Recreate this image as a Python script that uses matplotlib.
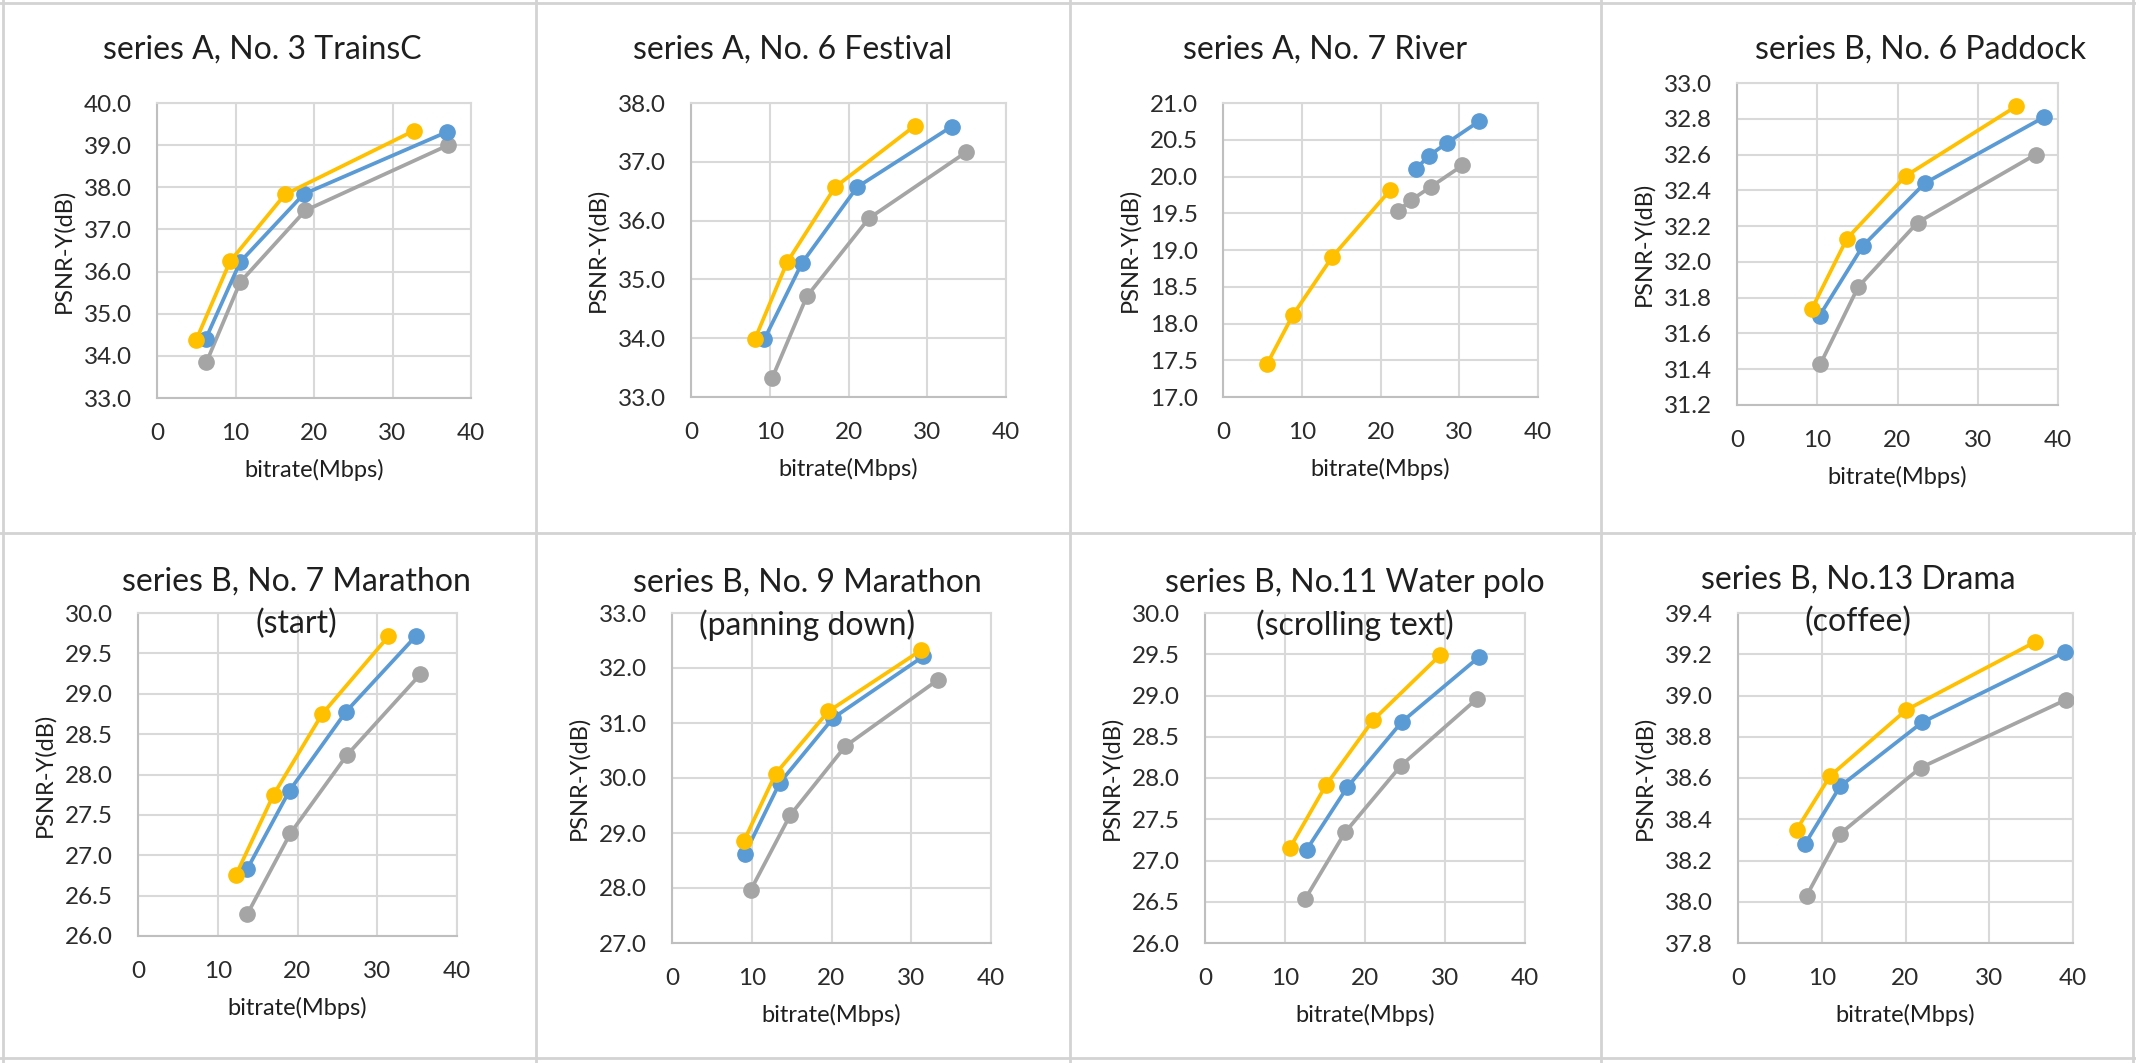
import numpy as np
import matplotlib
matplotlib.use("Agg")
import matplotlib.pyplot as plt
from matplotlib.lines import Line2D

plt.rcParams['font.family'] = ['Lato', 'DejaVu Sans']

# ---- data ----
titles = [
    "series A, No. 3 TrainsC",
    "series A, No. 6 Festival",
    "series A, No. 7 River",
    "series B, No. 6 Paddock",
    "series B, No. 7 Marathon\n(start)",
    "series B, No. 9 Marathon\n(panning down)",
    "series B, No.11 Water polo\n(scrolling text)",
    "series B, No.13 Drama\n(coffee)",
]

# yellow series
yel_x = [
    [5.0, 9.3, 16.3, 32.7],
    [8.1, 12.2, 18.3, 28.4],
    [5.6, 8.9, 13.9, 21.2],
    [9.3, 13.7, 21.0, 34.8],
    [12.3, 17.0, 23.1, 31.4],
    [9.0, 13.0, 19.6, 31.2],
    [10.6, 15.1, 21.0, 29.4],
    [7.0, 11.0, 20.1, 35.5],
]
yel_y = [
    [34.38, 36.24, 37.83, 39.34],
    [33.98, 35.29, 36.57, 37.61],
    [17.45, 18.12, 18.91, 19.81],
    [31.735, 32.13, 32.48, 32.87],
    [26.76, 27.75, 28.75, 29.71],
    [28.85, 30.08, 31.21, 32.32],
    [27.15, 27.91, 28.70, 29.49],
    [38.35, 38.61, 38.93, 39.26],
]

# blue series
blu_x = [
    [6.2, 10.6, 18.7, 36.9],
    [9.3, 14.1, 21.1, 33.1],
    [24.5, 26.1, 28.5, 32.5],
    [10.3, 15.7, 23.4, 38.3],
    [13.7, 19.0, 26.1, 34.9],
    [9.1, 13.5, 20.2, 31.5],
    [12.7, 17.8, 24.6, 34.3],
    [8.0, 12.2, 22.0, 39.0],
]
blu_y = [
    [34.40, 36.23, 37.84, 39.31],
    [33.98, 35.28, 36.57, 37.60],
    [20.10, 20.28, 20.46, 20.75],
    [31.70, 32.09, 32.44, 32.81],
    [26.83, 27.80, 28.78, 29.72],
    [28.61, 29.91, 31.09, 32.21],
    [27.13, 27.89, 28.68, 29.47],
    [38.28, 38.56, 38.87, 39.21],
]

# gray series
gry_x = [
    [6.3, 10.6, 18.9, 37.1],
    [10.3, 14.7, 22.6, 34.9],
    [22.2, 23.9, 26.4, 30.4],
    [10.4, 15.1, 22.5, 37.2],
    [13.7, 19.1, 26.2, 35.4],
    [9.9, 14.8, 21.75, 33.4],
    [12.5, 17.5, 24.5, 34.0],
    [8.2, 12.2, 21.8, 39.2],
]
gry_y = [
    [33.85, 35.75, 37.45, 39.00],
    [33.32, 34.71, 36.04, 37.16],
    [19.53, 19.68, 19.86, 20.15],
    [31.43, 31.86, 32.22, 32.60],
    [26.27, 27.27, 28.24, 29.24],
    [27.97, 29.32, 30.58, 31.79],
    [26.53, 27.34, 28.15, 28.96],
    [38.03, 38.33, 38.65, 38.98],
]

y_min = [33.0, 33.0, 17.0, 31.2, 26.0, 27.0, 26.0, 37.8]
y_max = [40.0, 38.0, 21.0, 33.0, 30.0, 33.0, 30.0, 39.4]
y_step = [1.0, 1.0, 0.5, 0.2, 0.5, 1.0, 0.5, 0.2]

x_ticks = [0, 10, 20, 30, 40]
xlabel = "bitrate(Mbps)"
ylabel = "PSNR-Y(dB)"

# ---- layout (pixels) ----
W, H = 2136, 1063
axes_px = [  # left, top, right, bottom
    (157, 103, 471, 398),
    (691, 103, 1006, 397),
    (1223, 103, 1538, 397),
    (1737, 83, 2058, 405),
    (138, 613, 457, 936),
    (672, 613, 991, 943),
    (1205, 613, 1525, 943),
    (1738, 613, 2073, 943),
]
title_px = [(262, 50), (793, 50), (1325, 50), (1921, 50),
            (296, 582), (807, 583), (1355, 583), (1858, 580)]
line_gap = 42

c_yel = '#FFC000'
c_blu = '#5B9BD5'
c_gry = '#A5A5A5'
c_grid = '#D9D9D9'
c_text = '#1F1F1F'
c_tick = '#2B2B2B'

fig = plt.figure(figsize=(W / 100, H / 100), dpi=100)
fig.patch.set_facecolor('white')

for i in range(8):
    l, t, r, b = axes_px[i]
    ax = fig.add_axes([l / W, 1 - b / H, (r - l) / W, (b - t) / H])
    for xs, ys, c in ((gry_x[i], gry_y[i], c_gry),
                      (blu_x[i], blu_y[i], c_blu),
                      (yel_x[i], yel_y[i], c_yel)):
        ax.plot(xs, ys, color=c, lw=2.7, marker='o', ms=11, zorder=3)
    ax.set_xlim(0, 40)
    ax.set_ylim(y_min[i], y_max[i])
    ax.set_xticks(x_ticks)
    yt = np.arange(y_min[i], y_max[i] + y_step[i] / 2, y_step[i])
    ax.set_yticks(yt)
    ax.set_yticklabels([f"{v:.1f}" for v in yt])
    ax.grid(True, color=c_grid, lw=1.5)
    ax.set_axisbelow(True)
    for s in ax.spines.values():
        s.set_color(c_grid)
        s.set_linewidth(1.5)
    ax.spines['left'].set_color('#BFBFBF')
    ax.spines['bottom'].set_color('#BFBFBF')
    ax.tick_params(length=0, labelsize=17.5, colors=c_tick, pad=18)
    ax.set_xlabel(xlabel, fontsize=17, color=c_text, labelpad=11)
    ax.set_ylabel(ylabel, fontsize=17, color=c_text, labelpad=7)

    cx, cy = title_px[i]
    for k, line in enumerate(titles[i].split('\n')):
        fig.text(cx / W, 1 - (cy + k * line_gap) / H, line, ha='center',
                 va='center', fontsize=23, color=c_text)

# panel separators
bcol = '#D3D3D3'
for x in (536, 1070, 1601):
    fig.add_artist(Line2D([x / W, x / W], [0, 1], color=bcol, lw=2))
fig.add_artist(Line2D([0, 1], [1 - 533 / H, 1 - 533 / H], color=bcol, lw=2))
for x in (3, 2133):
    fig.add_artist(Line2D([x / W, x / W], [0, 1], color=bcol, lw=2))
for y in (3, 1058):
    fig.add_artist(Line2D([0, 1], [1 - y / H, 1 - y / H], color=bcol, lw=2))

fig.savefig('out.png', dpi=100, facecolor='white')
